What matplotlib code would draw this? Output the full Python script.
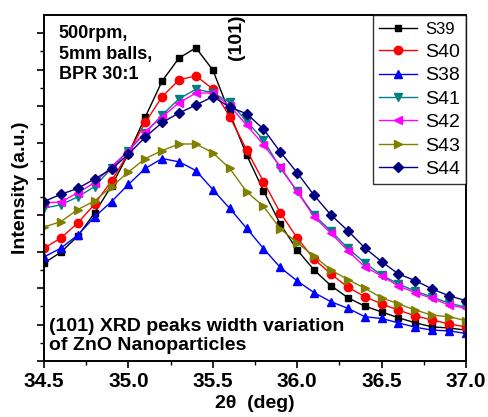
import matplotlib
matplotlib.use("Agg")
import matplotlib.pyplot as plt
import numpy as np

plt.rcParams['font.family'] = ['Liberation Sans', 'DejaVu Sans']

two_theta = [34.5, 34.6, 34.7, 34.8, 34.9, 35.0, 35.1, 35.2, 35.3, 35.4, 35.5, 35.6, 35.7,
             35.8, 35.9, 36.0, 36.1, 36.2, 36.3, 36.4, 36.5, 36.6, 36.7, 36.8, 36.9, 37.0]

S39 = [2.69, 2.99, 3.43, 4.07, 4.81, 5.69, 6.70, 7.69, 8.32, 8.60, 7.99, 6.81, 5.66,
       4.68, 3.76, 3.05, 2.50, 2.07, 1.74, 1.51, 1.35, 1.19, 1.05, 0.94, 0.91, 0.85]
S40 = [3.10, 3.38, 3.79, 4.31, 4.95, 5.71, 6.55, 7.26, 7.72, 7.83, 7.47, 6.71, 5.80,
       4.93, 4.07, 3.38, 2.80, 2.39, 2.03, 1.77, 1.57, 1.40, 1.24, 1.13, 1.02, 0.94]
S38 = [2.86, 3.10, 3.46, 3.96, 4.38, 4.85, 5.29, 5.56, 5.47, 5.23, 4.71, 4.19, 3.65,
       3.09, 2.57, 2.20, 1.88, 1.63, 1.45, 1.22, 1.17, 1.05, 0.93, 0.85, 0.83, 0.76]
S41 = [4.20, 4.29, 4.51, 4.79, 5.30, 5.77, 6.26, 6.76, 7.20, 7.46, 7.37, 7.10, 6.59,
       6.07, 5.30, 4.66, 4.01, 3.57, 3.10, 2.70, 2.36, 2.12, 1.92, 1.76, 1.59, 1.48]
S42 = [4.34, 4.37, 4.62, 4.90, 5.34, 5.77, 6.30, 6.71, 7.09, 7.36, 7.36, 7.01, 6.48,
       5.94, 5.34, 4.65, 3.96, 3.51, 3.03, 2.59, 2.34, 2.06, 1.88, 1.72, 1.54, 1.45]
S43 = [3.68, 3.83, 4.16, 4.40, 4.79, 5.19, 5.56, 5.78, 5.96, 5.96, 5.72, 5.29, 4.65,
       4.25, 3.63, 3.25, 2.88, 2.50, 2.24, 2.00, 1.74, 1.57, 1.40, 1.26, 1.22, 1.11]
S44 = [4.38, 4.58, 4.74, 5.00, 5.27, 5.68, 6.15, 6.55, 6.81, 7.03, 7.26, 6.97, 6.79,
       6.37, 5.74, 5.17, 4.55, 4.01, 3.58, 3.11, 2.73, 2.39, 2.21, 1.98, 1.79, 1.66]

series = [("S39", S39, "black", "s", 5.0),
          ("S40", S40, "#FF0000", "o", 6.0),
          ("S38", S38, "#0000FF", "^", 6.0),
          ("S41", S41, "#008080", "v", 6.0),
          ("S42", S42, "#FF00FF", "<", 6.0),
          ("S43", S43, "#808000", ">", 6.0),
          ("S44", S44, "#000080", "D", 5.0)]

fig = plt.figure(figsize=(4.89, 4.17), dpi=100)
ax = fig.add_axes([0.090, 0.134, 0.863, 0.830])

for name, vals, col, mk, ms in series:
    ax.plot(two_theta, vals, color=col, marker=mk, ms=ms, lw=1.0,
            markeredgecolor=col, markerfacecolor=col, label=name)

ax.set_xlim(34.5, 37.0)
ax.set_ylim(0, 9.5)
ax.set_xticks([34.5, 35.0, 35.5, 36.0, 36.5, 37.0])
ax.set_xticks([34.75, 35.25, 35.75, 36.25, 36.75], minor=True)
ax.set_yticks(np.arange(0, 9.5, 1.0))
ax.set_yticks(np.arange(0.5, 9.5, 1.0), minor=True)
ax.set_yticklabels([])
ax.tick_params(axis='both', which='major', direction='out', length=5, width=1.2)
ax.tick_params(axis='both', which='minor', direction='out', length=3, width=1.0)
ax.tick_params(axis='x', labelsize=15, pad=3)
for lab in ax.get_xticklabels():
    lab.set_fontweight('bold')
for sp in ax.spines.values():
    sp.set_linewidth(1.4)

ax.set_xlabel("2θ  (deg)", fontsize=14, fontweight='bold', labelpad=3)
ax.set_ylabel("Intensity (a.u.)", fontsize=14, fontweight='bold', labelpad=2)

ax.text(0.035, 0.97, "500rpm,\n5mm balls,\nBPR 30:1", transform=ax.transAxes,
        ha='left', va='top', fontsize=13, fontweight='bold', linespacing=1.25)
ax.text(0.457, 0.935, "(101)", transform=ax.transAxes, rotation=90,
        ha='center', va='center', fontsize=14, fontweight='bold')
ax.text(0.012, 0.022, "(101) XRD peaks width variation\nof ZnO Nanoparticles",
        transform=ax.transAxes, ha='left', va='bottom', fontsize=14,
        fontweight='bold', linespacing=1.1)

leg = ax.legend(loc='upper right', borderaxespad=0, fontsize=14, frameon=True,
                fancybox=False, edgecolor='black', handlelength=2.0,
                handletextpad=0.4, labelspacing=0.3, borderpad=0.3)
leg.get_frame().set_linewidth(1.0)
leg.get_texts()[0].set_fontsize(12)

fig.savefig("out.png", dpi=100)
